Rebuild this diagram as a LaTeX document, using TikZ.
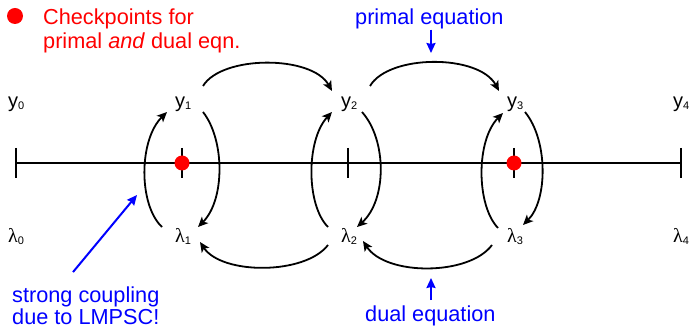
\documentclass[tikz,border=0pt]{standalone}
\usepackage{fontspec}
\setmainfont{Liberation Sans}
\newfontfamily\grk{Liberation Serif}
\usetikzlibrary{arrows.meta,calc}
\newcommand{\sublab}[2]{#1\raisebox{-1.5pt}{\fontsize{11}{11}\selectfont #2}}
\begin{document}
\begin{tikzpicture}[x=1pt,y=-1pt,
  lab/.style={anchor=base west, inner sep=0pt, font=\fontsize{20}{24}\selectfont},
  txt/.style={anchor=base west, inner sep=0pt, font=\fontsize{21.7}{24}\selectfont},
  conn/.style={line width=1.8pt, -{Stealth[length=10pt,width=9pt,inset=2.5pt]}},
  barr/.style={blue, line width=2pt, -{Stealth[length=10pt,width=9pt,inset=1pt]}},
  axisline/.style={line width=1.8pt}
]
\useasboundingbox (0,0) rectangle (690,328);

% axis
\draw[axisline] (16,163) -- (681,163);
\foreach \x in {16,182,348,514,681} \draw[axisline] (\x,148) -- (\x,178);
\fill[red] (182,163) circle[radius=7.5pt];
\fill[red] (514,163) circle[radius=7.5pt];

% labels
\foreach \i/\x in {0/8,1/175,2/341,3/507,4/673} {
  \node[lab] (y\i) at (\x,108) {\sublab{y}{\i}};
  \node[lab] (l\i) at (\x,243) {\sublab{{\grk λ}}{\i}};
}

% primal forward arcs
\draw[conn] ($(y1.base west)+(28,-22)$) .. controls (222,55) and (312,55) .. ($(y2.base west)+(-9,-17)$);
\draw[conn] ($(y2.base west)+(29,-22)$) .. controls (389,54) and (479,54) .. ($(y3.base west)+(-8,-17)$);

% coupling: lambda -> y
\draw[conn] ($(l1.base west)+(-13,-16)$) .. controls (138.5,205) and (138.5,140) .. ($(y1.base west)+(-8,4)$);
\draw[conn] ($(l2.base west)+(-13,-16)$) .. controls (306,205) and (306,140) .. ($(y2.base west)+(-9,4)$);
\draw[conn] ($(l3.base west)+(-9,-15)$) .. controls (476,205) and (476,140) .. ($(y3.base west)+(-4,5)$);

% coupling: y -> lambda
\draw[conn] ($(y1.base west)+(28,4)$) .. controls (225,140) and (225,200) .. ($(l1.base west)+(23,-16)$);
\draw[conn] ($(y2.base west)+(21,4)$) .. controls (387,140) and (387,200) .. ($(l2.base west)+(16,-16)$);
\draw[conn] ($(y3.base west)+(18,4)$) .. controls (548,140) and (548,200) .. ($(l3.base west)+(16,-18)$);

% dual backward arcs
\draw[conn] ($(l2.base west)+(-13,2)$) .. controls (305,275) and (222,275) .. ($(l1.base west)+(25,-1)$);
\draw[conn] ($(l3.base west)+(-15,2)$) .. controls (469,276) and (386,276) .. ($(l2.base west)+(22,-2)$);

% legend
\fill[red] (15,16) circle[radius=8pt];
\node[txt, red] (ck1) at (43,25) {Checkpoints for};
\node[txt, red] (ck2) at (43,49) {primal \textit{and} dual eqn.};

% blue annotations
\node[txt, blue] (pe) at (355,25) {primal equation};
\node[txt, blue] (de) at (365,322) {dual equation};
\node[txt, blue] (sc1) at (12,302) {strong coupling};
\node[txt, blue] (sc2) at (12,324) {due to LMPSC!};

\coordinate (petip) at (431,53);
\coordinate (detip) at (431,278);
\coordinate (sctip) at (137,195);
\draw[barr] (pe.south -| petip) -- (petip);
\draw[barr] ($(de.north -| detip)+(0,-6)$) -- (detip);
\draw[barr] ($(sc1.north west)+(61,-14)$) -- (sctip);
\end{tikzpicture}
\end{document}
